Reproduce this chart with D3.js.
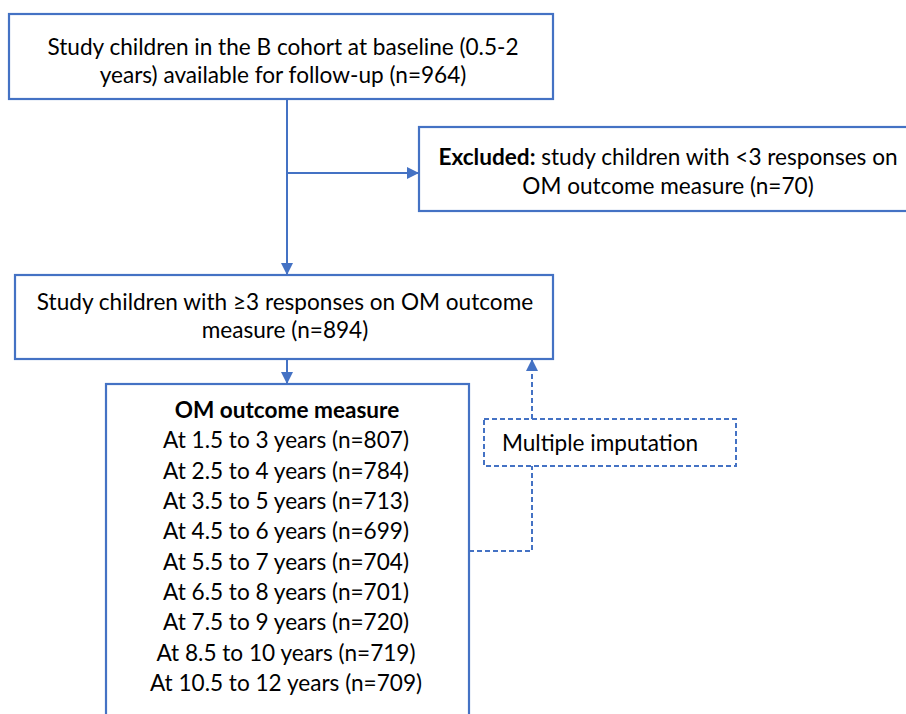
<!DOCTYPE html>
<html>
<head>
<meta charset="utf-8">
<script src="https://cdn.jsdelivr.net/npm/d3@7"></script>
<style>
  html, body { margin: 0; padding: 0; background: #fff; }
  svg { display: block; }
  text { font-family: Lato, "Open Sans", sans-serif; fill: #000; }
</style>
</head>
<body>
<svg id="chart" width="906" height="714"></svg>
<script>
// ---- data ----
const baselineLines = ["Study children in the B cohort at baseline (0.5-2", "years) available for follow-up (n=964)"];
const excludedBold = "Excluded:";
const excludedLines = [" study children with <3 responses on", "OM outcome measure (n=70)"];
const includedLines = ["Study children with \u22653 responses on OM outcome", "measure (n=894)"];
const outcomeTitle = "OM outcome measure";
const ageRanges = ["1.5 to 3", "2.5 to 4", "3.5 to 5", "4.5 to 6", "5.5 to 7", "6.5 to 8", "7.5 to 9", "8.5 to 10", "10.5 to 12"];
const ageCounts = [807, 784, 713, 699, 704, 701, 720, 719, 709];
const imputationLabel = "Multiple imputation";

const blue = "#4472C4";
const fs = 22.6;
const svg = d3.select("#chart");

svg.append("defs").append("marker")
  .attr("id", "arrow").attr("viewBox", "0 0 10 10")
  .attr("refX", 10).attr("refY", 5)
  .attr("markerWidth", 12).attr("markerHeight", 12)
  .attr("markerUnits", "userSpaceOnUse")
  .attr("orient", "auto")
  .append("path").attr("d", "M0,0 L10,5 L0,10 Z").attr("fill", blue);

function box(x, y, w, h, dashed) {
  const r = svg.append("rect").attr("x", x).attr("y", y).attr("width", w).attr("height", h)
    .attr("fill", "#fff").attr("stroke", blue).attr("stroke-width", dashed ? 2 : 2.2);
  if (dashed) r.attr("stroke-dasharray", "5,3");
  return r;
}
function line(pts, opts = {}) {
  const p = svg.append("path").attr("d", d3.line()(pts)).attr("fill", "none")
    .attr("stroke", blue).attr("stroke-width", 2);
  if (opts.dashed) p.attr("stroke-dasharray", "5,3");
  if (opts.arrow) p.attr("marker-end", "url(#arrow)");
  return p;
}

// connectors
line([[287, 99], [287, 275]], { arrow: true });
line([[287, 173], [419, 173]], { arrow: true });
line([[287, 359], [287, 384]], { arrow: true });
line([[469, 551], [532, 551], [532, 466]], { dashed: true });
line([[532, 419], [532, 359]], { dashed: true, arrow: true });

// boxes
box(9, 14, 544, 85);
svg.selectAll("text.b1").data(baselineLines).join("text")
  .attr("x", 283).attr("y", (d, i) => 55 + i * 28)
  .attr("text-anchor", "middle").attr("font-size", fs).text(d => d);

box(419, 127, 500, 84);
const ex = svg.append("text").attr("x", 668).attr("y", 165).attr("text-anchor", "middle").attr("font-size", fs);
ex.append("tspan").attr("font-weight", "bold").text(excludedBold);
ex.append("tspan").text(excludedLines[0]);
svg.append("text").attr("x", 668).attr("y", 194).attr("text-anchor", "middle").attr("font-size", fs).text(excludedLines[1]);

box(15, 275, 538, 84);
svg.selectAll("text.b2").data(includedLines).join("text")
  .attr("x", 285).attr("y", (d, i) => 310 + i * 28)
  .attr("text-anchor", "middle").attr("font-size", fs).text(d => d);

box(106, 384, 363, 360);
const rowY = d3.scaleLinear().domain([0, 9]).range([418, 691]);
svg.append("text").attr("x", 287).attr("y", rowY(0)).attr("text-anchor", "middle")
  .attr("font-size", fs).attr("font-weight", "bold").text(outcomeTitle);
svg.selectAll("text.age").data(ageRanges).join("text")
  .attr("x", 286).attr("y", (d, i) => rowY(i + 1))
  .attr("text-anchor", "middle").attr("font-size", fs)
  .text((d, i) => `At ${d} years (n=${ageCounts[i]})`);

box(484, 419, 252, 47, true);
svg.append("text").attr("x", 502).attr("y", 451).attr("font-size", fs).text(imputationLabel);
</script>
</body>
</html>
